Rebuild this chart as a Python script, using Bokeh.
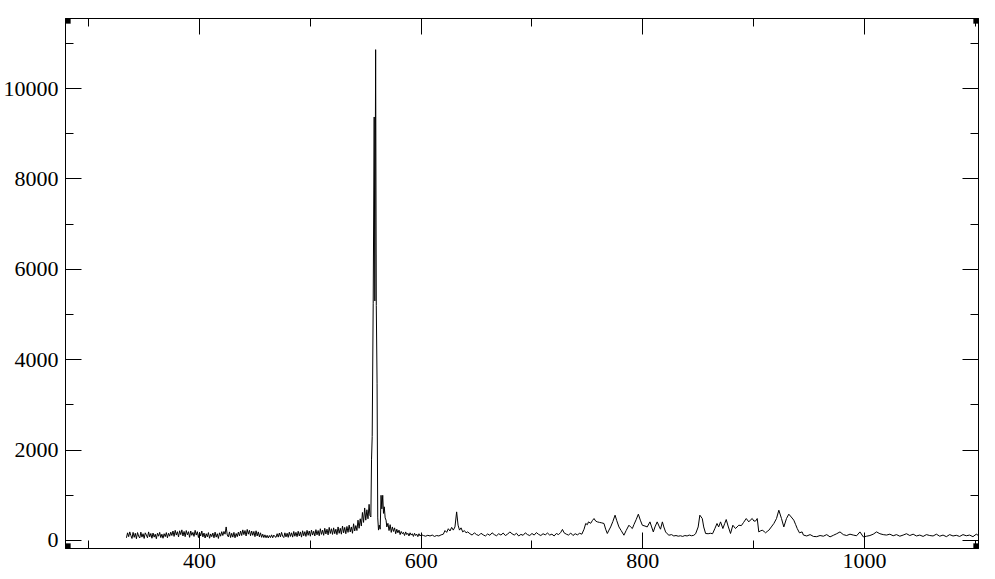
from bokeh.plotting import figure
from bokeh.models import (ColumnDataSource, LinearAxis, SingleIntervalTicker,
                          Range1d, BoxAnnotation, CustomJSTickFormatter)
from bokeh.embed import file_html
from bokeh.resources import INLINE

# ---- data (wavelength in nm, intensity in counts) ----
wl_blue = list(range(334, 421))
int_blue = [60, 170, 85, 190, 110, 45, 180, 70, 160, 40,
            175, 95, 55, 185, 75, 150, 45, 170, 120, 60,
            190, 80, 155, 50, 165, 75, 140, 40, 160, 95,
            180, 65, 140, 50, 150, 85, 175, 60, 160, 95,
            185, 110, 210, 90, 225, 120, 195, 80, 215, 130,
            235, 100, 200, 85, 220, 125, 195, 70, 210, 115,
            180, 90, 225, 120, 195, 65, 180, 100, 210, 80,
            165, 55, 150, 80, 175, 50, 145, 85, 165, 60,
            185, 75, 150, 45, 170, 95, 195]

wl_green = list(range(421, 554))
int_green = [110, 200, 140, 300, 120, 80, 190, 65, 160, 75, 180, 60, 155, 85, 185, 100, 210, 110, 235, 130,
             220, 100, 245, 140, 225, 105, 210, 115, 200, 85, 215, 100, 190, 80, 170, 70, 140, 65, 125, 60,
             115, 55, 110, 65, 125, 60, 120, 85, 70, 150, 75, 165, 80, 180, 95, 65, 170, 80, 160, 70,
             185, 90, 170, 75, 200, 95, 180, 85, 205, 100, 190, 75, 215, 105, 195, 90, 225, 115, 210, 95,
             230, 120, 205, 100, 240, 125, 220, 105, 260, 135, 230, 115, 270, 145, 250, 125, 290, 155, 260, 135,
             280, 150, 250, 130, 300, 160, 270, 140, 320, 170, 290, 150, 310, 180, 340, 190, 300, 160, 370, 210,
             330, 220, 450, 270, 480, 320, 620, 400, 720, 450, 680, 480, 800]

wl_peak = [553.8, 554.6, 555.2, 555.8, 556.7, 557.6, 558.2, 558.9, 559.5, 560.2,
           560.8, 561.5, 562.2, 563.0, 563.8, 564.5, 565.3, 566.0, 566.7, 567.5, 568.3]
int_peak = [550, 520, 1800, 2300, 5250, 9370, 5300, 10860, 5200, 3480,
            500, 230, 340, 250, 1000, 700, 1000, 600, 745, 500, 450]

wl_after = [569, 570, 571, 572, 573, 574, 575, 576, 577, 578, 579, 580, 581, 582, 583,
            584, 585, 586, 587, 588, 589, 590, 591, 592, 593, 594, 595, 596, 597, 598,
            599, 600, 602, 604, 606, 608, 610, 612, 614, 616, 618, 620, 621.5, 623,
            624.5, 626, 627.5, 629, 630.5, 632, 633.3, 634.6, 636, 637.5, 639, 640.5, 642]
int_after = [300, 380, 220, 350, 180, 300, 200, 280, 150, 250, 170, 230, 130, 200, 150,
             180, 110, 190, 130, 160, 100, 170, 120, 150, 90, 160, 110, 140, 85, 150,
             100, 130, 110, 95, 115, 100, 120, 90, 110, 100, 125, 140, 220, 180,
             260, 210, 290, 230, 300, 633, 340, 230, 280, 190, 220, 170, 190]

wl_mid = [644, 646, 648, 650, 652, 654, 656, 658, 660, 662, 664, 666, 668, 670, 672,
          674, 676, 678, 680, 682, 684, 686, 688, 690, 692, 694, 696, 698, 700, 702,
          704, 706, 708, 710, 712, 714, 716, 718, 720, 722, 724, 726, 727.5, 729, 731,
          733, 735, 737, 739, 741, 743, 745]
int_mid = [150, 120, 170, 130, 110, 160, 125, 100, 145, 115, 170, 130, 105, 150, 120,
           165, 110, 140, 190, 150, 120, 160, 100, 135, 115, 170, 130, 110, 155, 120,
           175, 135, 110, 150, 125, 165, 120, 140, 100, 155, 130, 180, 245, 170, 140,
           120, 165, 110, 150, 125, 160, 140]

wl_red = [747, 748.5, 750, 751, 753, 754.5, 756, 757.5, 759, 761, 763, 765, 766.5, 768,
          769.5, 771, 773, 775, 776.5, 778.5, 780.5, 783, 785, 787.5, 789, 790.6, 792,
          794, 796, 797.8, 799.6, 802, 804, 806.5, 808, 809.5, 811, 813, 815, 816, 817.7,
          819, 820.6, 822, 823.6, 826, 828, 830, 832, 834, 836, 838, 840, 842, 844, 846,
          847.7, 850, 851.5, 853.7, 855, 856.7, 859, 861, 863, 865, 867, 868.5, 870.2,
          872.3, 874, 875.3, 877, 879.2, 881.3, 883.7, 886.7, 889, 891, 893.4, 895.7,
          897, 898.8, 900.3, 901.8, 903.3, 904.7, 906, 907.8, 909.5, 910.8, 912.3,
          913.8, 916, 918.3, 920.7, 922.8, 925.2, 927.3, 929.7, 931.8, 934, 936.3, 938,
          939.4, 941.4, 943.8]
int_red = [250, 376, 350, 412, 380, 440, 486, 430, 412, 400, 390, 376, 250, 155,
           230, 300, 420, 560, 440, 300, 220, 117, 220, 338, 300, 265, 350,
           460, 582, 450, 338, 320, 300, 412, 300, 190, 300, 412, 300, 250, 412,
           300, 190, 150, 117, 130, 100, 110, 95, 105, 90, 110, 100, 120, 105, 115,
           150, 300, 560, 486, 300, 155, 150, 160, 150, 260, 376, 300, 412,
           265, 380, 464, 320, 155, 338, 265, 338, 330, 400, 486, 412,
           450, 486, 430, 430, 486, 190, 210, 228, 200, 170, 200,
           228, 300, 376, 486, 670, 486, 300, 486, 582, 520, 450, 350,
           265, 170, 190]

wl_tail = [945, 948, 951, 954, 957, 960, 963, 966, 969, 972, 975, 978, 981, 984, 987,
           990, 993, 996, 999, 1002, 1005, 1008, 1011, 1014, 1017, 1020, 1023, 1026,
           1029, 1032, 1035, 1038, 1041, 1044, 1047, 1050, 1053, 1056, 1059, 1062,
           1065, 1068, 1071, 1074, 1077, 1080, 1083, 1086, 1089, 1092, 1095, 1098,
           1101, 1103]
int_tail = [120, 100, 130, 90, 85, 110, 95, 130, 80, 115, 150, 190, 130, 110, 140,
            120, 105, 190, 80, 95, 110, 140, 190, 150, 130, 120, 140, 105,
            130, 95, 120, 150, 110, 140, 100, 120, 90, 130, 110, 100,
            140, 95, 120, 85, 130, 100, 115, 90, 130, 105, 120, 85,
            140, 110]

x_major_ticks = [400, 600, 800, 1000]
y_major_ticks = [0, 2000, 4000, 6000, 8000, 10000]

wavelength = wl_blue + wl_green + wl_peak + wl_after + wl_mid + wl_red + wl_tail
intensity = int_blue + int_green + int_peak + int_after + int_mid + int_red + int_tail
source = ColumnDataSource(data=dict(x=wavelength, y=intensity))

X0, X1 = 279, 1103
Y0, Y1 = -177, 11549

p = figure(width=995, height=579, output_backend="svg", toolbar_location=None,
           x_range=Range1d(X0, X1), y_range=Range1d(Y0, Y1),
           x_axis_type=None, y_axis_type=None,
           min_border_left=64, min_border_right=17, min_border_top=18,
           min_border_bottom=31)
p.grid.visible = False
p.background_fill_color = "white"
p.border_fill_color = "white"
p.outline_line_color = "black"
p.outline_line_width = 1

FONT = "Liberation Serif"


def make_axis(ticker_interval, labels=True, standoff=3):
    ax = LinearAxis(ticker=SingleIntervalTicker(interval=ticker_interval, num_minor_ticks=2))
    ax.axis_line_color = "black"
    ax.major_tick_line_color = "black"
    ax.minor_tick_line_color = "black"
    ax.major_tick_in = 16
    ax.major_tick_out = 0
    ax.minor_tick_in = 8
    ax.minor_tick_out = 0
    ax.major_label_text_font = FONT
    ax.major_label_text_color = "black"
    ax.major_label_text_font_size = "22px"
    ax.major_label_standoff = standoff
    if not labels:
        ax.formatter = CustomJSTickFormatter(code="return '';")
        ax.major_label_text_font_size = "0px"
        ax.major_label_standoff = 0
    return ax


p.add_layout(make_axis(200, True, 5), "below")
p.add_layout(make_axis(2000, True, 7), "left")
p.add_layout(make_axis(200, False), "above")
p.add_layout(make_axis(2000, False), "right")

p.line("x", "y", source=source, line_color="black", line_width=1)

# corner handles
dx = 4.5
dy = 110
for cx in (X0, X1):
    for cy in (Y0, Y1):
        p.add_layout(BoxAnnotation(left=cx - dx, right=cx + dx, bottom=cy - dy, top=cy + dy,
                                   fill_color="black", fill_alpha=1.0, line_color="black",
                                   level="overlay"))

open("out.html", "w").write(file_html(p, INLINE))
